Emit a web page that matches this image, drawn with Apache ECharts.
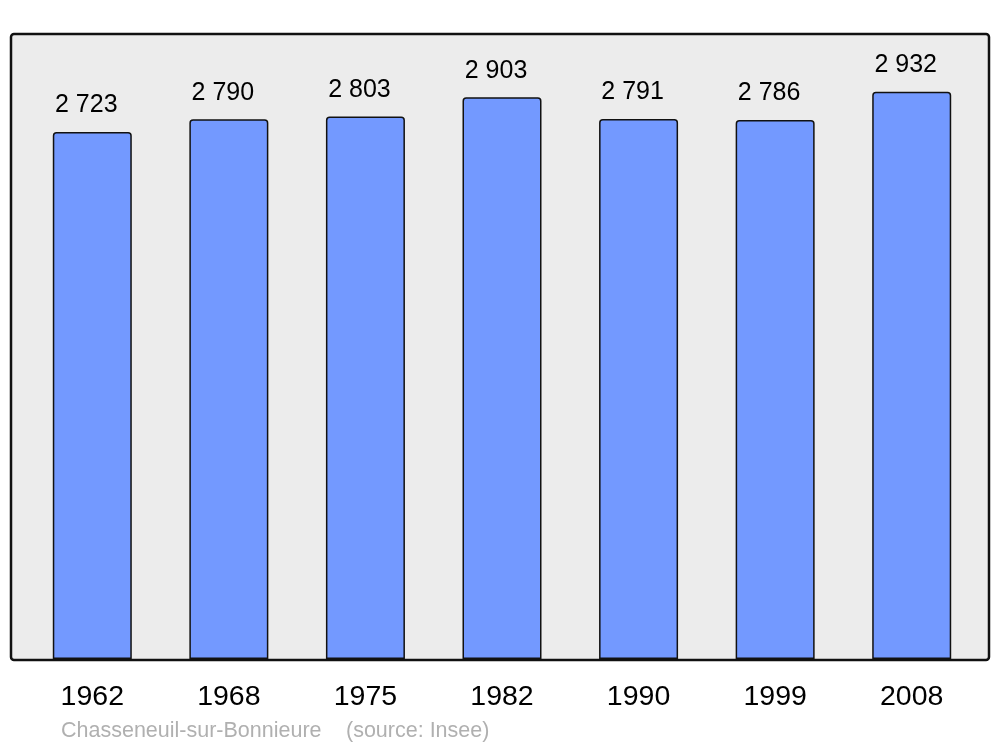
<!DOCTYPE html>
<html>
<head>
<meta charset="utf-8">
<script src="https://cdn.jsdelivr.net/npm/echarts@6/dist/echarts.min.js"></script>
<style>html,body{margin:0;padding:0;background:#fff}#c{width:1000px;height:747px}</style>
</head>
<body>
<div id="c"></div>
<script>
const years = ['1962','1968','1975','1982','1990','1999','2008'];
const population = [2723, 2790, 2803, 2903, 2791, 2786, 2932];
const placeName = 'Chasseneuil-sur-Bonnieure';
const sourceText = '(source: Insee)';

const FONT = '"Liberation Sans", Arial, sans-serif';
const fmt = v => String(v).replace(/\B(?=(\d{3})+(?!\d))/g, ' ');
const chart = echarts.init(document.getElementById('c'), null, {renderer: 'canvas'});
chart.setOption({
  backgroundColor: '#ffffff',
  animation: false,
  graphic: [
    {type: 'rect', z: -10, shape: {x: 11, y: 34, width: 978, height: 626, r: 3},
     style: {fill: '#ececec', stroke: '#111', lineWidth: 2.5}},
    {type: 'text', left: 61, top: 720, style: {text: placeName, fill: '#b0b0b0', font: '21.5px ' + FONT}},
    {type: 'text', left: 346, top: 720, style: {text: sourceText, fill: '#b0b0b0', font: '21.5px ' + FONT}}
  ],
  grid: {left: 24, right: 20, top: 34, bottom: 88},
  xAxis: {
    type: 'category', data: years,
    axisLine: {show: false}, axisTick: {show: false},
    axisLabel: {color: '#000', fontSize: 28.5, fontFamily: FONT, margin: 24}
  },
  yAxis: {type: 'value', min: 0, max: 3230, show: false, splitLine: {show: false}},
  series: [{
    type: 'bar', data: population, barWidth: 79,
    itemStyle: {color: '#7399ff', borderColor: '#111', borderWidth: 1.5, borderRadius: [3, 3, 0, 0]},
    label: {show: true, position: 'top', distance: 14, offset: [-6, 0], color: '#000', fontSize: 25,
      fontFamily: FONT, formatter: p => fmt(p.value)}
  }]
});
</script>
</body>
</html>
